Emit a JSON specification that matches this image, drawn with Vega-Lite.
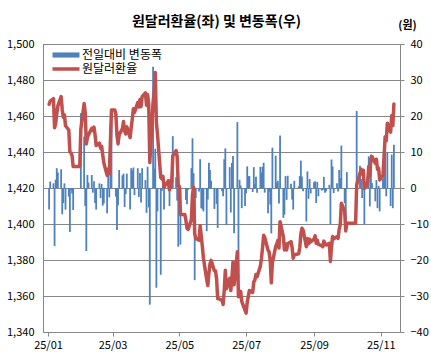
{
  "$schema": "https://vega.github.io/schema/vega-lite/v6.json",
  "autosize": {"type": "none"},
  "width": 357,
  "height": 288,
  "padding": {"left": 43, "top": 44, "right": 31, "bottom": 24},
  "background": "#ffffff",
  "title": {
    "text": "원달러환율(좌) 및 변동폭(우)",
    "font": "Noto Sans CJK KR",
    "fontSize": 14,
    "fontWeight": "bold",
    "color": "#000000",
    "anchor": "middle",
    "dx": -5,
    "offset": -10
  },
  "config": {
    "view": {"stroke": "#868686", "strokeWidth": 1},
    "axis": {"labelFont": "Noto Sans CJK KR", "labelFontSize": 11, "labelColor": "#000000", "titleFont": "Noto Sans CJK KR"},
    "legend": {"labelFont": "Noto Sans CJK KR"}
  },
  "datasets": {
    "fx": [
      {"d":"2025-01-02","r":1466.5,"c":-6.0},
      {"d":"2025-01-03","r":1468.3,"c":1.8},
      {"d":"2025-01-06","r":1469.6,"c":1.3},
      {"d":"2025-01-07","r":1453.5,"c":-16.1},
      {"d":"2025-01-08","r":1455.8,"c":2.3},
      {"d":"2025-01-09","r":1461.3,"c":5.5},
      {"d":"2025-01-10","r":1465.6,"c":4.3},
      {"d":"2025-01-13","r":1470.8,"c":5.2},
      {"d":"2025-01-14","r":1463.5,"c":-7.3},
      {"d":"2025-01-15","r":1459.3,"c":-4.2},
      {"d":"2025-01-16","r":1460.6,"c":1.3},
      {"d":"2025-01-17","r":1454.6,"c":-6.0},
      {"d":"2025-01-20","r":1452.2,"c":-2.4},
      {"d":"2025-01-21","r":1440.0,"c":-12.2},
      {"d":"2025-01-22","r":1439.5,"c":-0.5},
      {"d":"2025-01-23","r":1438.0,"c":-1.5},
      {"d":"2025-01-24","r":1431.9,"c":-6.1},
      {"d":"2025-01-27","r":1431.9,"c":0},
      {"d":"2025-01-28","r":1431.9,"c":0},
      {"d":"2025-01-29","r":1431.9,"c":0},
      {"d":"2025-01-30","r":1431.9,"c":0},
      {"d":"2025-01-31","r":1452.7,"c":20.8},
      {"d":"2025-02-03","r":1467.0,"c":14.3},
      {"d":"2025-02-04","r":1462.0,"c":-5.0},
      {"d":"2025-02-05","r":1444.5,"c":-17.5},
      {"d":"2025-02-06","r":1448.1,"c":3.6},
      {"d":"2025-02-07","r":1449.6,"c":1.5},
      {"d":"2025-02-10","r":1453.2,"c":3.6},
      {"d":"2025-02-11","r":1451.9,"c":-1.3},
      {"d":"2025-02-12","r":1453.8,"c":1.9},
      {"d":"2025-02-13","r":1449.6,"c":-4.2},
      {"d":"2025-02-14","r":1443.6,"c":-6.0},
      {"d":"2025-02-17","r":1444.9,"c":1.3},
      {"d":"2025-02-18","r":1442.1,"c":-2.8},
      {"d":"2025-02-19","r":1443.2,"c":1.1},
      {"d":"2025-02-20","r":1438.3,"c":-4.9},
      {"d":"2025-02-21","r":1434.0,"c":-4.3},
      {"d":"2025-02-24","r":1427.0,"c":-7.0},
      {"d":"2025-02-25","r":1430.6,"c":3.6},
      {"d":"2025-02-26","r":1428.0,"c":-2.6},
      {"d":"2025-02-27","r":1445.6,"c":17.6},
      {"d":"2025-02-28","r":1463.4,"c":17.8},
      {"d":"2025-03-03","r":1463.4,"c":0},
      {"d":"2025-03-04","r":1461.0,"c":-2.4},
      {"d":"2025-03-05","r":1449.3,"c":-11.7},
      {"d":"2025-03-06","r":1444.5,"c":-4.8},
      {"d":"2025-03-07","r":1449.5,"c":5.0},
      {"d":"2025-03-10","r":1453.0,"c":3.5},
      {"d":"2025-03-11","r":1457.0,"c":4.0},
      {"d":"2025-03-12","r":1451.7,"c":-5.3},
      {"d":"2025-03-13","r":1450.0,"c":-1.7},
      {"d":"2025-03-14","r":1454.0,"c":4.0},
      {"d":"2025-03-17","r":1448.0,"c":-6.0},
      {"d":"2025-03-18","r":1453.5,"c":5.5},
      {"d":"2025-03-19","r":1458.3,"c":4.8},
      {"d":"2025-03-20","r":1464.0,"c":5.7},
      {"d":"2025-03-21","r":1462.0,"c":-2.0},
      {"d":"2025-03-24","r":1467.5,"c":5.5},
      {"d":"2025-03-25","r":1465.0,"c":-2.5},
      {"d":"2025-03-26","r":1469.2,"c":4.2},
      {"d":"2025-03-27","r":1465.2,"c":-4.0},
      {"d":"2025-03-28","r":1470.7,"c":5.5},
      {"d":"2025-03-31","r":1472.9,"c":2.2},
      {"d":"2025-04-01","r":1466.0,"c":-6.9},
      {"d":"2025-04-02","r":1471.9,"c":5.9},
      {"d":"2025-04-03","r":1466.5,"c":-5.4},
      {"d":"2025-04-04","r":1434.1,"c":-32.4},
      {"d":"2025-04-07","r":1467.8,"c":33.7},
      {"d":"2025-04-08","r":1473.2,"c":5.4},
      {"d":"2025-04-09","r":1484.1,"c":10.9},
      {"d":"2025-04-10","r":1456.4,"c":-27.7},
      {"d":"2025-04-11","r":1449.9,"c":-6.5},
      {"d":"2025-04-14","r":1425.8,"c":-24.1},
      {"d":"2025-04-15","r":1425.0,"c":-0.8},
      {"d":"2025-04-16","r":1426.5,"c":1.5},
      {"d":"2025-04-17","r":1420.5,"c":-6.0},
      {"d":"2025-04-18","r":1421.5,"c":1.0},
      {"d":"2025-04-21","r":1424.0,"c":2.5},
      {"d":"2025-04-22","r":1419.0,"c":-5.0},
      {"d":"2025-04-23","r":1421.5,"c":2.5},
      {"d":"2025-04-24","r":1423.4,"c":1.9},
      {"d":"2025-04-25","r":1437.8,"c":14.4},
      {"d":"2025-04-28","r":1440.8,"c":3.0},
      {"d":"2025-04-29","r":1437.3,"c":-3.5},
      {"d":"2025-04-30","r":1421.0,"c":-16.3},
      {"d":"2025-05-01","r":1421.0,"c":0},
      {"d":"2025-05-02","r":1405.3,"c":-15.7},
      {"d":"2025-05-05","r":1405.3,"c":0},
      {"d":"2025-05-06","r":1405.3,"c":0},
      {"d":"2025-05-07","r":1402.0,"c":-3.3},
      {"d":"2025-05-08","r":1397.5,"c":-4.5},
      {"d":"2025-05-09","r":1397.0,"c":-0.5},
      {"d":"2025-05-12","r":1402.5,"c":5.5},
      {"d":"2025-05-13","r":1416.3,"c":13.8},
      {"d":"2025-05-14","r":1420.4,"c":4.1},
      {"d":"2025-05-15","r":1394.8,"c":-25.6},
      {"d":"2025-05-16","r":1392.0,"c":-2.8},
      {"d":"2025-05-19","r":1391.0,"c":-1.0},
      {"d":"2025-05-20","r":1399.0,"c":8.0},
      {"d":"2025-05-21","r":1393.4,"c":-5.6},
      {"d":"2025-05-22","r":1387.5,"c":-5.9},
      {"d":"2025-05-23","r":1381.0,"c":-6.5},
      {"d":"2025-05-26","r":1369.0,"c":-12.0},
      {"d":"2025-05-27","r":1365.8,"c":-3.2},
      {"d":"2025-05-28","r":1372.8,"c":7.0},
      {"d":"2025-05-29","r":1377.8,"c":5.0},
      {"d":"2025-05-30","r":1379.8,"c":2.0},
      {"d":"2025-06-02","r":1374.0,"c":-5.8},
      {"d":"2025-06-03","r":1374.0,"c":0},
      {"d":"2025-06-04","r":1369.6,"c":-4.4},
      {"d":"2025-06-05","r":1358.5,"c":-11.1},
      {"d":"2025-06-06","r":1358.5,"c":0},
      {"d":"2025-06-09","r":1357.6,"c":-0.9},
      {"d":"2025-06-10","r":1355.3,"c":-2.3},
      {"d":"2025-06-11","r":1363.3,"c":8.0},
      {"d":"2025-06-12","r":1374.3,"c":11.0},
      {"d":"2025-06-13","r":1364.0,"c":-10.3},
      {"d":"2025-06-16","r":1369.8,"c":5.8},
      {"d":"2025-06-17","r":1363.0,"c":-6.8},
      {"d":"2025-06-18","r":1370.0,"c":7.0},
      {"d":"2025-06-19","r":1378.9,"c":8.9},
      {"d":"2025-06-20","r":1366.3,"c":-12.6},
      {"d":"2025-06-23","r":1384.6,"c":18.3},
      {"d":"2025-06-24","r":1359.6,"c":-25.0},
      {"d":"2025-06-25","r":1361.9,"c":2.3},
      {"d":"2025-06-26","r":1362.6,"c":0.7},
      {"d":"2025-06-27","r":1357.0,"c":-5.6},
      {"d":"2025-06-30","r":1352.0,"c":-5.0},
      {"d":"2025-07-01","r":1350.5,"c":-1.5},
      {"d":"2025-07-02","r":1356.5,"c":6.0},
      {"d":"2025-07-03","r":1359.8,"c":3.3},
      {"d":"2025-07-04","r":1363.1,"c":3.3},
      {"d":"2025-07-07","r":1362.0,"c":-1.1},
      {"d":"2025-07-08","r":1367.8,"c":5.8},
      {"d":"2025-07-09","r":1368.9,"c":1.1},
      {"d":"2025-07-10","r":1372.0,"c":3.1},
      {"d":"2025-07-11","r":1370.7,"c":-1.3},
      {"d":"2025-07-14","r":1376.6,"c":5.9},
      {"d":"2025-07-15","r":1380.9,"c":4.3},
      {"d":"2025-07-16","r":1386.8,"c":5.9},
      {"d":"2025-07-17","r":1393.8,"c":7.0},
      {"d":"2025-07-18","r":1392.5,"c":-1.3},
      {"d":"2025-07-21","r":1385.5,"c":-7.0},
      {"d":"2025-07-22","r":1384.5,"c":-1.0},
      {"d":"2025-07-23","r":1379.9,"c":-4.6},
      {"d":"2025-07-24","r":1367.3,"c":-12.6},
      {"d":"2025-07-25","r":1378.5,"c":11.2},
      {"d":"2025-07-28","r":1387.5,"c":9.0},
      {"d":"2025-07-29","r":1389.0,"c":1.5},
      {"d":"2025-07-30","r":1391.0,"c":2.0},
      {"d":"2025-07-31","r":1386.7,"c":-4.3},
      {"d":"2025-08-01","r":1401.3,"c":14.6},
      {"d":"2025-08-04","r":1393.0,"c":-8.3},
      {"d":"2025-08-05","r":1385.6,"c":-7.4},
      {"d":"2025-08-06","r":1388.9,"c":3.3},
      {"d":"2025-08-07","r":1385.6,"c":-3.3},
      {"d":"2025-08-08","r":1389.0,"c":3.4},
      {"d":"2025-08-11","r":1390.2,"c":1.2},
      {"d":"2025-08-12","r":1387.0,"c":-3.2},
      {"d":"2025-08-13","r":1381.0,"c":-6.0},
      {"d":"2025-08-14","r":1383.0,"c":2.0},
      {"d":"2025-08-15","r":1383.0,"c":0},
      {"d":"2025-08-18","r":1383.5,"c":0.5},
      {"d":"2025-08-19","r":1386.8,"c":3.3},
      {"d":"2025-08-20","r":1394.4,"c":7.6},
      {"d":"2025-08-21","r":1397.6,"c":3.2},
      {"d":"2025-08-22","r":1396.7,"c":-0.9},
      {"d":"2025-08-25","r":1387.4,"c":-9.3},
      {"d":"2025-08-26","r":1392.0,"c":4.6},
      {"d":"2025-08-27","r":1389.0,"c":-3.0},
      {"d":"2025-08-28","r":1391.5,"c":2.5},
      {"d":"2025-08-29","r":1390.0,"c":-1.5},
      {"d":"2025-09-01","r":1391.6,"c":1.6},
      {"d":"2025-09-02","r":1393.5,"c":1.9},
      {"d":"2025-09-03","r":1389.3,"c":-4.2},
      {"d":"2025-09-04","r":1391.0,"c":1.7},
      {"d":"2025-09-05","r":1388.7,"c":-2.3},
      {"d":"2025-09-08","r":1388.0,"c":-0.7},
      {"d":"2025-09-09","r":1387.4,"c":-0.6},
      {"d":"2025-09-10","r":1390.5,"c":3.1},
      {"d":"2025-09-11","r":1389.2,"c":-1.3},
      {"d":"2025-09-12","r":1388.3,"c":-0.9},
      {"d":"2025-09-15","r":1389.2,"c":0.9},
      {"d":"2025-09-16","r":1379.2,"c":-10.0},
      {"d":"2025-09-17","r":1387.1,"c":7.9},
      {"d":"2025-09-18","r":1393.1,"c":6.0},
      {"d":"2025-09-19","r":1391.7,"c":-1.4},
      {"d":"2025-09-22","r":1393.0,"c":1.3},
      {"d":"2025-09-23","r":1392.0,"c":-1.0},
      {"d":"2025-09-24","r":1397.0,"c":5.0},
      {"d":"2025-09-25","r":1399.7,"c":2.7},
      {"d":"2025-09-26","r":1411.5,"c":11.8},
      {"d":"2025-09-29","r":1407.3,"c":-4.2},
      {"d":"2025-09-30","r":1396.1,"c":-11.2},
      {"d":"2025-10-01","r":1400.5,"c":4.4},
      {"d":"2025-10-02","r":1400.4,"c":-0.1},
      {"d":"2025-10-03","r":1400.4,"c":0},
      {"d":"2025-10-06","r":1400.4,"c":0},
      {"d":"2025-10-07","r":1400.4,"c":0},
      {"d":"2025-10-08","r":1400.4,"c":0},
      {"d":"2025-10-09","r":1400.4,"c":0},
      {"d":"2025-10-10","r":1421.8,"c":21.4},
      {"d":"2025-10-13","r":1428.0,"c":6.2},
      {"d":"2025-10-14","r":1430.5,"c":2.5},
      {"d":"2025-10-15","r":1427.7,"c":-2.8},
      {"d":"2025-10-16","r":1429.9,"c":2.2},
      {"d":"2025-10-17","r":1419.7,"c":-10.2},
      {"d":"2025-10-20","r":1423.1,"c":3.4},
      {"d":"2025-10-21","r":1431.9,"c":8.8},
      {"d":"2025-10-22","r":1426.8,"c":-5.1},
      {"d":"2025-10-23","r":1436.1,"c":9.3},
      {"d":"2025-10-24","r":1437.5,"c":1.4},
      {"d":"2025-10-27","r":1433.8,"c":-3.7},
      {"d":"2025-10-28","r":1436.0,"c":2.2},
      {"d":"2025-10-29","r":1430.4,"c":-5.6},
      {"d":"2025-10-30","r":1431.0,"c":0.6},
      {"d":"2025-10-31","r":1424.5,"c":-6.5},
      {"d":"2025-11-03","r":1427.0,"c":2.5},
      {"d":"2025-11-04","r":1437.5,"c":10.5},
      {"d":"2025-11-05","r":1448.5,"c":11.0},
      {"d":"2025-11-06","r":1446.2,"c":-2.3},
      {"d":"2025-11-07","r":1456.0,"c":9.8},
      {"d":"2025-11-10","r":1451.0,"c":-5.0},
      {"d":"2025-11-11","r":1460.3,"c":9.3},
      {"d":"2025-11-12","r":1454.7,"c":-5.6},
      {"d":"2025-11-13","r":1466.7,"c":12.0}
    ]
  },
  "data": {"name": "fx"},
  "encoding": {
    "x": {
      "field": "d",
      "type": "temporal",
      "scale": {
        "type": "utc",
        "domain": [
          {"year": 2025, "month": 1, "date": 1, "utc": true},
          {"year": 2025, "month": 11, "date": 14, "utc": true}
        ]
      },
      "axis": {
        "title": null,
        "values": [
          {"year": 2025, "month": 1, "date": 1, "utc": true},
          {"year": 2025, "month": 3, "date": 1, "utc": true},
          {"year": 2025, "month": 5, "date": 1, "utc": true},
          {"year": 2025, "month": 7, "date": 1, "utc": true},
          {"year": 2025, "month": 9, "date": 1, "utc": true},
          {"year": 2025, "month": 11, "date": 1, "utc": true}
        ],
        "format": "%y/%m",
        "grid": false,
        "domain": false,
        "ticks": true,
        "tickSize": 4,
        "tickColor": "#868686",
        "labelPadding": 3,
        "labelFontSize": 11
      }
    }
  },
  "layer": [
    {
      "mark": {"type": "bar", "size": 1.8},
      "encoding": {
        "y": {
          "field": "c",
          "type": "quantitative",
          "scale": {"domain": [-40, 40]},
          "axis": {
            "orient": "right",
            "values": [-40, -30, -20, -10, 0, 10, 20, 30, 40],
            "grid": false,
            "domain": false,
            "ticks": true,
            "tickSize": 4,
            "tickColor": "#868686",
            "labelPadding": 6,
            "labelFontSize": 11,
            "title": "(원)",
            "titleAngle": 0,
            "titleAlign": "center",
            "titleBaseline": "alphabetic",
            "titleX": 7,
            "titleY": -16,
            "titleFontSize": 11,
            "titleFontWeight": "bold",
            "titleColor": "#000000"
          }
        },
        "color": {
          "datum": "전일대비 변동폭",
          "type": "nominal",
          "scale": {"domain": ["전일대비 변동폭", "원달러환율"], "range": ["#4f81bd", "#c0504d"]},
          "legend": {
            "title": null,
            "orient": "none",
            "legendX": 16,
            "legendY": 4,
            "padding": 0,
            "symbolSize": 182,
            "labelFontSize": 12,
            "labelColor": "#000000",
            "labelOffset": 9,
            "rowPadding": 1,
            "encode": {
              "symbols": {
                "update": {
                  "fill": {"scale": "color", "field": "value"},
                  "stroke": {"value": "transparent"},
                  "strokeWidth": {"value": 0},
                  "opacity": {"value": 1},
                  "shape": {"signal": "datum.value == '원달러환율' ? 'M-2,-0.26H2V0.26H-2Z' : 'M-2,-0.38H2V0.38H-2Z'"}
                }
              }
            }
          }
        }
      }
    },
    {
      "mark": {"type": "line", "strokeWidth": 3.5, "strokeJoin": "round", "strokeCap": "round"},
      "encoding": {
        "y": {
          "field": "r",
          "type": "quantitative",
          "scale": {"domain": [1340, 1500], "zero": false},
          "axis": {
            "orient": "left",
            "values": [1340, 1360, 1380, 1400, 1420, 1440, 1460, 1480, 1500],
            "format": ",.0f",
            "grid": true,
            "gridColor": "#868686",
            "gridWidth": 1,
            "domain": false,
            "ticks": false,
            "labelPadding": 9,
            "labelFontSize": 11,
            "title": null
          }
        },
        "color": {"datum": "원달러환율", "type": "nominal"}
      }
    }
  ],
  "resolve": {"scale": {"y": "independent"}}
}
